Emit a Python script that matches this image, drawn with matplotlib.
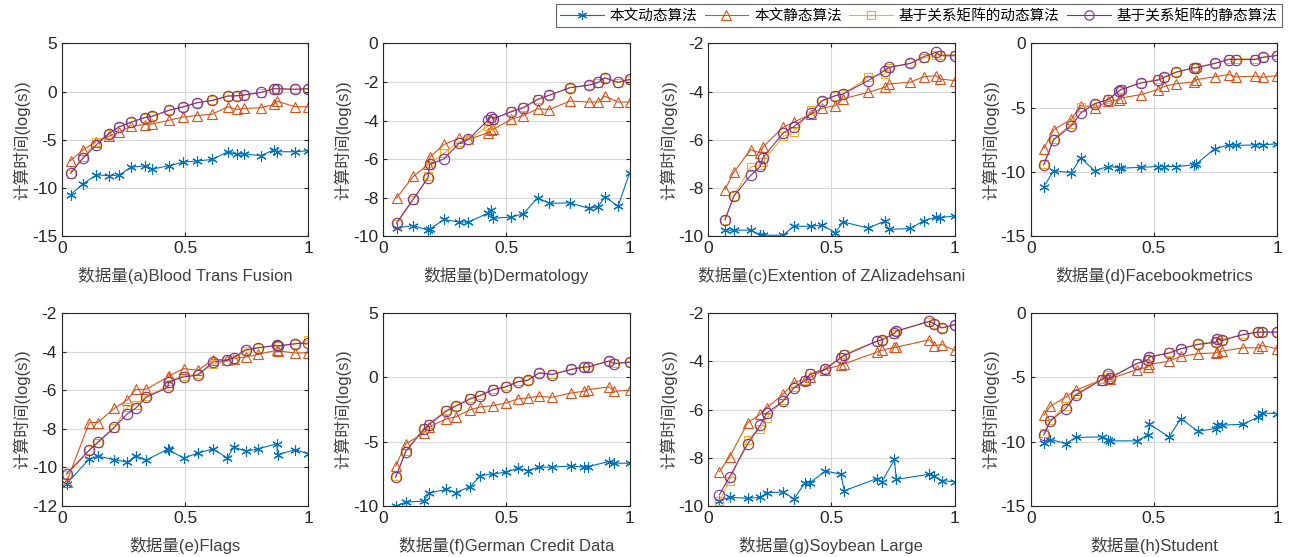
import numpy as np
import matplotlib
matplotlib.use('Agg')
import matplotlib.pyplot as plt

plt.rcParams['font.family'] = ['Liberation Sans', 'Noto Sans CJK SC']
plt.rcParams['axes.unicode_minus'] = False

# series names
names = ['本文动态算法', '本文静态算法', '基于关系矩阵的动态算法', '基于关系矩阵的静态算法']
colors = ['#0072BD', '#D95319', '#EDB120', '#7E2F8E']

# (a) Blood Trans Fusion
xa = [0.035, 0.086, 0.139, 0.19, 0.231, 0.279, 0.336, 0.367, 0.435, 0.493, 0.548, 0.61, 0.673, 0.71, 0.737, 0.807, 0.861, 0.872, 0.946, 1.0]
a_dyn = [-10.69, -9.57, -8.64, -8.71, -8.67, -7.87, -7.69, -8.04, -7.69, -7.31, -7.2, -7.04, -6.24, -6.51, -6.45, -6.65, -6.03, -6.24, -6.24, -6.14]
a_sta = [-7.17, -6.03, -5.19, -4.63, -4.2, -3.59, -3.42, -3.35, -2.97, -2.63, -2.48, -2.34, -1.57, -1.85, -1.75, -1.68, -1.33, -0.98, -1.57, -1.57]
a_mdyn = [-8.5, -6.8, -5.2, -4.4, -3.7, -3.2, -2.7, -2.55, -1.95, -1.6, -1.15, -0.9, -0.45, -0.42, -0.35, -0.1, 0.3, 0.32, 0.25, 0.3]
a_msta = [-8.46, -6.9, -5.54, -4.36, -3.66, -3.18, -2.69, -2.55, -1.92, -1.57, -1.16, -0.91, -0.46, -0.43, -0.36, -0.08, 0.3, 0.3, 0.24, 0.3]

# (b) Dermatology
xb = [0.055, 0.123, 0.182, 0.189, 0.247, 0.307, 0.346, 0.425, 0.439, 0.446, 0.519, 0.569, 0.627, 0.674, 0.757, 0.836, 0.873, 0.899, 0.954, 1.0]
b_dyn = [-9.57, -9.45, -9.69, -9.65, -9.13, -9.27, -9.27, -8.81, -8.65, -9.07, -9.01, -8.84, -8.01, -8.3, -8.27, -8.56, -8.48, -7.96, -8.44, -6.71]
b_sta = [-8.01, -6.89, -6.28, -5.9, -5.24, -4.93, -4.98, -4.64, -4.5, -4.46, -3.94, -3.74, -3.39, -3.43, -2.99, -3.04, -3.04, -2.73, -3.04, -3.04]
b_mdyn = [-9.35, -8.1, -6.9, -6.2, -5.7, -5.1, -5.0, -4.3, -4.0, -3.95, -3.5, -3.3, -2.9, -2.7, -2.3, -2.15, -2.05, -1.8, -2.05, -1.9]
b_msta = [-9.31, -8.06, -6.99, -6.28, -5.99, -5.19, -4.98, -3.98, -3.81, -3.91, -3.55, -3.34, -2.91, -2.68, -2.3, -2.16, -2.01, -1.78, -2.01, -1.87]

# (c) Extention of ZAlizadehsani
xc = [0.068, 0.104, 0.172, 0.212, 0.222, 0.304, 0.347, 0.419, 0.462, 0.516, 0.547, 0.649, 0.716, 0.732, 0.82, 0.874, 0.924, 0.942, 1.0]
c_dyn = [-9.75, -9.75, -9.75, -9.96, -9.96, -9.96, -9.59, -9.59, -9.54, -9.85, -9.41, -9.66, -9.38, -9.72, -9.68, -9.37, -9.2, -9.23, -9.16]
c_sta = [-8.07, -7.34, -6.41, -6.55, -6.3, -5.48, -5.27, -4.92, -4.69, -4.58, -4.3, -4.03, -3.82, -3.68, -3.61, -3.38, -3.34, -3.48, -3.54]
c_mdyn = [-9.34, -8.34, -7.13, -7.06, -6.92, -5.86, -5.68, -4.76, -4.4, -4.17, -4.1, -3.41, -3.27, -3.02, -2.83, -2.61, -2.47, -2.47, -2.47]
c_msta = [-9.31, -8.34, -7.48, -7.1, -6.74, -5.72, -5.45, -4.9, -4.37, -4.17, -4.1, -3.54, -3.13, -2.99, -2.83, -2.55, -2.37, -2.51, -2.51]

# (d) Facebookmetrics
xd = [0.053, 0.093, 0.165, 0.203, 0.259, 0.314, 0.358, 0.366, 0.449, 0.516, 0.543, 0.591, 0.661, 0.672, 0.746, 0.804, 0.834, 0.912, 0.942, 1.0]
d_dyn = [-11.15, -9.92, -10.05, -8.91, -9.9, -9.58, -9.66, -9.71, -9.64, -9.58, -9.58, -9.58, -9.45, -9.38, -8.2, -7.89, -7.94, -7.89, -7.89, -7.81]
d_sta = [-8.18, -6.72, -5.89, -4.84, -5.03, -4.51, -4.38, -4.24, -3.98, -3.59, -3.33, -3.13, -2.99, -2.81, -2.6, -2.42, -2.6, -2.55, -2.63, -2.5]
d_mdyn = [-9.4, -7.4, -6.3, -4.95, -4.75, -4.35, -3.7, -3.55, -3.05, -2.8, -2.6, -2.2, -1.9, -1.85, -1.55, -1.2, -1.2, -1.2, -1.05, -0.9]
d_msta = [-9.45, -7.5, -6.41, -5.42, -4.69, -4.38, -3.72, -3.59, -3.07, -2.86, -2.63, -2.24, -1.9, -1.9, -1.56, -1.25, -1.25, -1.25, -1.09, -0.94]

# (e) Flags
xe = [0.019, 0.111, 0.145, 0.213, 0.265, 0.299, 0.342, 0.43, 0.433, 0.495, 0.552, 0.613, 0.672, 0.697, 0.746, 0.796, 0.872, 0.875, 0.946, 1.0]
e_dyn = [-10.85, -9.56, -9.42, -9.59, -9.73, -9.39, -9.63, -9.04, -9.11, -9.51, -9.25, -9.04, -9.51, -8.94, -9.16, -9.04, -8.77, -9.34, -9.08, -9.29]
e_sta = [-10.76, -7.67, -7.67, -6.93, -6.5, -5.95, -5.95, -5.3, -5.26, -4.87, -4.96, -4.41, -4.41, -4.35, -4.27, -4.13, -3.92, -3.95, -4.06, -4.06]
e_mdyn = [-10.4, -9.1, -8.75, -7.95, -6.85, -6.75, -6.3, -5.8, -5.5, -5.25, -5.15, -4.65, -4.5, -4.35, -3.95, -3.8, -3.65, -3.7, -3.6, -3.4]
e_msta = [-10.32, -9.11, -8.7, -7.91, -7.22, -6.93, -6.36, -5.85, -5.56, -5.3, -5.21, -4.53, -4.44, -4.3, -3.89, -3.79, -3.67, -3.7, -3.58, -3.55]

# (f) German Credit Data
xf = [0.051, 0.092, 0.166, 0.186, 0.256, 0.294, 0.354, 0.395, 0.447, 0.499, 0.546, 0.586, 0.633, 0.685, 0.764, 0.815, 0.833, 0.916, 0.939, 1.0]
f_dyn = [-10.0, -9.71, -9.61, -9.01, -8.7, -8.96, -8.49, -7.63, -7.5, -7.37, -7.06, -7.24, -6.98, -6.98, -6.88, -6.98, -6.93, -6.54, -6.67, -6.67]
f_sta = [-6.88, -5.16, -4.32, -3.85, -3.23, -3.07, -2.5, -2.29, -2.19, -1.98, -1.67, -1.59, -1.46, -1.54, -1.2, -1.07, -0.94, -0.73, -1.07, -0.99]
f_mdyn = [-7.7, -5.7, -3.95, -3.6, -2.55, -2.2, -1.6, -1.35, -0.9, -0.7, -0.3, -0.2, 0.38, 0.25, 0.65, 0.85, 0.85, 1.3, 1.1, 1.2]
f_msta = [-7.76, -5.76, -4.01, -3.67, -2.63, -2.24, -1.67, -1.41, -0.94, -0.73, -0.34, -0.23, 0.36, 0.23, 0.63, 0.81, 0.81, 1.28, 1.07, 1.2]

# (g) Soybean Large
xg = [0.045, 0.087, 0.16, 0.211, 0.238, 0.303, 0.349, 0.391, 0.414, 0.475, 0.539, 0.552, 0.685, 0.705, 0.756, 0.763, 0.898, 0.917, 0.949, 1.0]
g_dyn = [-9.78, -9.64, -9.68, -9.64, -9.45, -9.42, -9.7, -9.06, -9.03, -8.55, -8.68, -9.37, -8.86, -8.99, -8.07, -8.9, -8.68, -8.76, -8.95, -8.99]
g_sta = [-8.58, -7.96, -6.55, -6.19, -5.92, -5.37, -4.86, -4.76, -4.65, -4.34, -4.14, -4.1, -3.61, -3.54, -3.41, -3.41, -3.1, -3.34, -3.3, -3.54]
g_mdyn = [-9.8, -8.95, -7.25, -6.8, -6.35, -5.6, -5.05, -4.75, -4.5, -4.3, -3.8, -3.7, -3.15, -3.1, -2.85, -2.75, -2.35, -2.45, -2.6, -2.5]
g_msta = [-9.54, -8.79, -7.43, -6.65, -6.14, -5.66, -5.09, -4.81, -4.54, -4.32, -3.85, -3.75, -3.16, -3.1, -2.83, -2.74, -2.33, -2.44, -2.61, -2.47]

# (h) Student
xh = [0.053, 0.08, 0.142, 0.182, 0.288, 0.315, 0.322, 0.43, 0.475, 0.482, 0.562, 0.609, 0.678, 0.753, 0.756, 0.776, 0.862, 0.923, 0.939, 1.0]
h_dyn = [-10.09, -9.83, -10.14, -9.67, -9.62, -9.83, -9.93, -9.93, -9.49, -8.64, -9.62, -8.2, -9.18, -8.97, -8.71, -8.71, -8.64, -8.07, -7.76, -7.81]
h_sta = [-7.94, -7.24, -6.52, -6.0, -5.17, -5.02, -5.09, -4.4, -4.19, -3.98, -3.72, -3.36, -3.15, -3.08, -3.05, -2.95, -2.69, -2.69, -2.51, -2.77]
h_mdyn = [-9.3, -8.3, -7.2, -6.3, -5.1, -4.8, -5.0, -3.9, -3.6, -3.4, -3.05, -2.75, -2.4, -2.2, -2.0, -2.05, -1.65, -1.45, -1.45, -1.45]
h_msta = [-9.49, -8.38, -7.42, -6.39, -5.17, -4.76, -5.02, -3.93, -3.62, -3.41, -3.1, -2.77, -2.43, -2.25, -1.99, -2.12, -1.66, -1.47, -1.47, -1.47]

titles = ['(a)Blood Trans Fusion', '(b)Dermatology', '(c)Extention of ZAlizadehsani', '(d)Facebookmetrics',
          '(e)Flags', '(f)German Credit Data', '(g)Soybean Large', '(h)Student']
xs = [xa, xb, xc, xd, xe, xf, xg, xh]
ys = [[a_dyn, a_sta, a_mdyn, a_msta], [b_dyn, b_sta, b_mdyn, b_msta],
      [c_dyn, c_sta, c_mdyn, c_msta], [d_dyn, d_sta, d_mdyn, d_msta],
      [e_dyn, e_sta, e_mdyn, e_msta], [f_dyn, f_sta, f_mdyn, f_msta],
      [g_dyn, g_sta, g_mdyn, g_msta], [h_dyn, h_sta, h_mdyn, h_msta]]
yticks = [[-15, -10, -5, 0, 5], [-10, -8, -6, -4, -2, 0], [-10, -8, -6, -4, -2], [-15, -10, -5, 0],
          [-12, -10, -8, -6, -4, -2], [-10, -5, 0, 5], [-10, -8, -6, -4, -2], [-15, -10, -5, 0]]

markers = [(6, 2, 0), '^', 's', 'o']
msizes = [7.5, 7.5, 6, 7.5]

fig = plt.figure(figsize=(12.9, 5.57), dpi=100)
lefts = [0.048, 0.297, 0.549, 0.799]
bottoms = [0.576, 0.0916]
w = 0.191
h = 0.346

handles = []
for k in range(8):
    ax = fig.add_axes([lefts[k % 4], bottoms[k // 4], w, h])
    for j in range(4):
        ln, = ax.plot(xs[k], ys[k][j], color=colors[j], lw=0.8, marker=markers[j],
                      ms=msizes[j], mfc='none', mec=colors[j], mew=0.8, label=names[j])
        if k == 0:
            handles.append(ln)
    ax.set_xlim(0, 1)
    ax.set_ylim(yticks[k][0], yticks[k][-1])
    ax.set_xticks([0, 0.5, 1])
    ax.set_xticklabels(['0', '0.5', '1'])
    ax.set_yticks(yticks[k])
    ax.grid(True, color='#d9d9d9', lw=0.8)
    ax.set_axisbelow(True)
    ax.tick_params(direction='in', length=3, labelsize=12.5, colors='#262626', top=True, right=True)
    for s in ax.spines.values():
        s.set_color('#262626')
        s.set_linewidth(0.8)
    ax.set_xlabel('数据量' + titles[k], fontsize=12, color='#404040', labelpad=8)
    ax.set_ylabel('计算时间(log(s))', fontsize=12, color='#404040', labelpad=1)

leg = fig.legend(handles=handles, labels=names, loc='upper right', bbox_to_anchor=(0.997, 1.0),
                 ncol=4, fontsize=10.5, frameon=True, fancybox=False, handlelength=3.0,
                 columnspacing=0.5, handletextpad=0.4, borderpad=0.3, borderaxespad=0.3,
                 markerscale=0.9)
leg.get_frame().set_edgecolor('#404040')
leg.get_frame().set_linewidth(0.8)

fig.savefig('out.png', dpi=100)
